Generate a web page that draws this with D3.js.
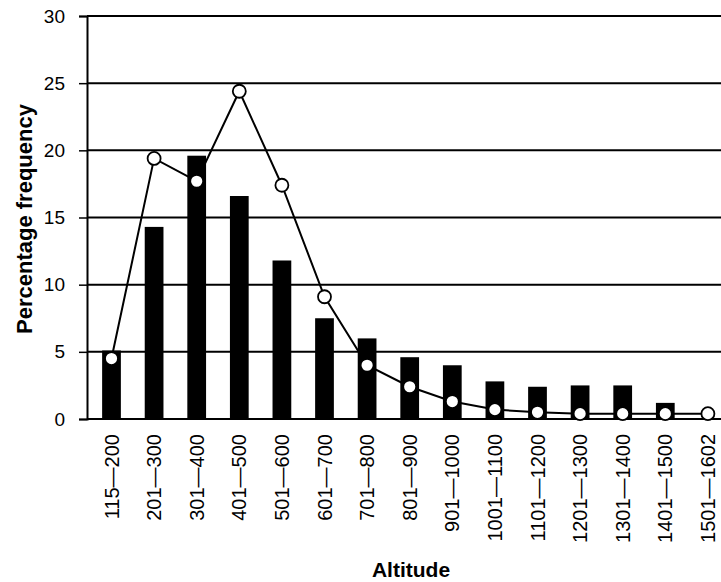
<!DOCTYPE html>
<html>
<head>
<meta charset="utf-8">
<script src="https://cdn.jsdelivr.net/npm/d3@7"></script>
<style>
  html, body { margin: 0; padding: 0; background: #fff; }
  svg { display: block; font-family: "Liberation Sans", Arial, Helvetica, sans-serif; }
</style>
</head>
<body>
<svg id="chart" width="721" height="582"></svg>
<script>
const categories = ["115\u2014200","201\u2014300","301\u2014400","401\u2014500","501\u2014600","601\u2014700","701\u2014800","801\u2014900","901\u20141000","1001\u20141100","1101\u20141200","1201\u20141300","1301\u20141400","1401\u20141500","1501\u20141602"];
const barValues = [5.1, 14.3, 19.6, 16.6, 11.8, 7.5, 6.0, 4.6, 4.0, 2.8, 2.4, 2.5, 2.5, 1.2, 0];
const lineValues = [4.5, 19.4, 17.7, 24.4, 17.4, 9.1, 4.0, 2.4, 1.3, 0.7, 0.5, 0.4, 0.4, 0.4, 0.4];
const yTicks = [0, 5, 10, 15, 20, 25, 30];
const yTitle = "Percentage frequency";
const xTitle = "Altitude";

const svg = d3.select("#chart");
const axisX = 87, rightEdge = 721;

const y = d3.scaleLinear().domain([0, 30]).range([419, 16]);
const x = d3.scaleBand().domain(categories).range([90.2, 729.2])
  .paddingInner(0.56).paddingOuter(0.28);
const cx = d => x(d) + x.bandwidth() / 2;

// gridlines
svg.append("g").selectAll("line").data(yTicks).join("line")
  .attr("x1", axisX).attr("x2", rightEdge)
  .attr("y1", d => y(d)).attr("y2", d => y(d))
  .attr("stroke", "#000").attr("stroke-width", 2);

// y axis
const yAxis = d3.axisLeft(y).tickValues(yTicks).tickSize(8).tickPadding(14).tickFormat(d3.format("d"));
const gy = svg.append("g").attr("transform", `translate(${axisX},0)`).call(yAxis);
gy.select(".domain").attr("stroke", "#000").attr("stroke-width", 2);
gy.selectAll(".tick line").attr("stroke", "#000").attr("stroke-width", 1.5);
gy.selectAll(".tick text").attr("font-size", 19).attr("fill", "#000")
  .attr("font-family", "'Liberation Sans', Arial, sans-serif");

// bars
svg.append("g").selectAll("rect").data(categories).join("rect")
  .attr("x", d => x(d))
  .attr("width", x.bandwidth())
  .attr("y", (d, i) => y(barValues[i]))
  .attr("height", (d, i) => y(0) - y(barValues[i]))
  .attr("fill", "#000");

// line
const line = d3.line().x((d, i) => cx(categories[i])).y(d => y(d));
svg.append("path").datum(lineValues)
  .attr("d", line).attr("fill", "none")
  .attr("stroke", "#000").attr("stroke-width", 2);

svg.append("g").selectAll("circle").data(lineValues).join("circle")
  .attr("cx", (d, i) => cx(categories[i]))
  .attr("cy", d => y(d))
  .attr("r", 6.5)
  .attr("fill", "#fff").attr("stroke", "#000").attr("stroke-width", 1.8);

// x labels
svg.append("g").selectAll("text").data(categories).join("text")
  .attr("transform", d => `translate(${cx(d) + 7},434) rotate(-90)`)
  .attr("text-anchor", "end")
  .attr("font-size", 20)
  .attr("fill", "#000")
  .text(d => d);

// titles
svg.append("text")
  .attr("transform", "translate(32,219) rotate(-90)")
  .attr("text-anchor", "middle")
  .attr("font-size", 22).attr("font-weight", "bold").attr("fill", "#000")
  .text(yTitle);

svg.append("text")
  .attr("x", 411).attr("y", 577)
  .attr("text-anchor", "middle")
  .attr("font-size", 21).attr("font-weight", "bold").attr("fill", "#000")
  .text(xTitle);
</script>
</body>
</html>
